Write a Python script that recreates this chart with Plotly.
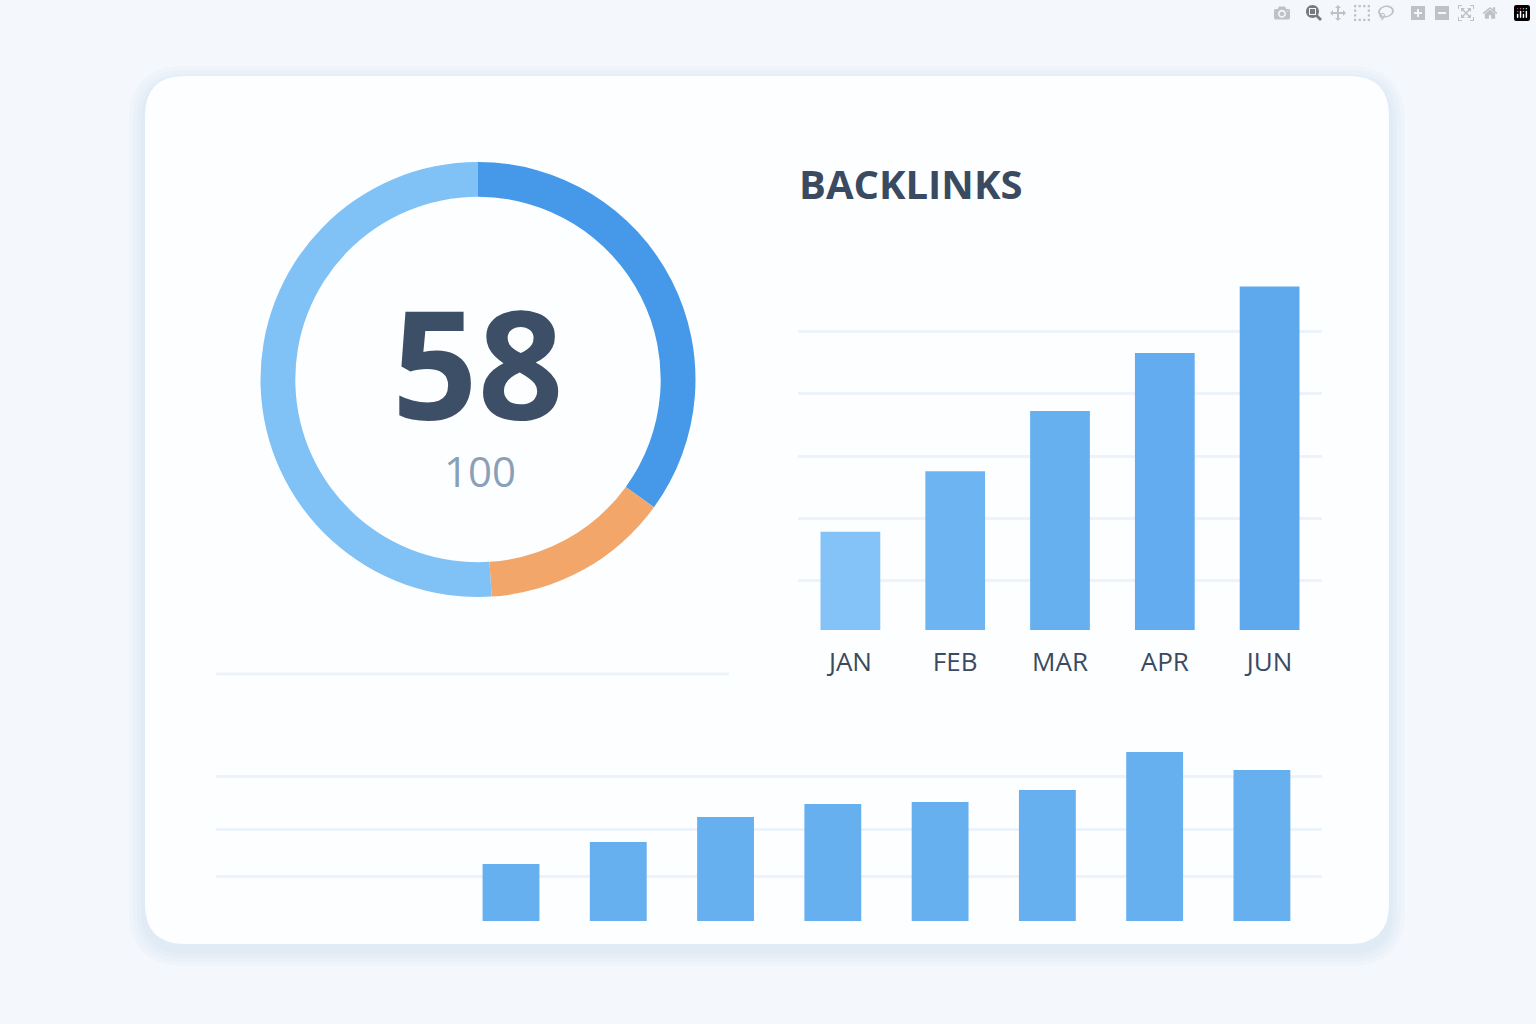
import plotly.graph_objects as go

W, H = 1536, 1024

# data
score = 58
score_max = 100
ring_labels = ["done", "warn", "rest"]
ring_values = [35, 14, 51]
ring_colors = ["#4599e8", "#f2a66a", "#80c1f6"]

months = ["JAN", "FEB", "MAR", "APR", "JUN"]
backlinks = [1.58, 2.55, 3.52, 4.45, 5.52]
month_colors = ["#84c3f7", "#6db5f2", "#66b0f0", "#62acef", "#5ea9ee"]

bottom_x = [1, 2, 3, 4, 5, 6, 7, 8]
bottom_vals = [57, 79, 104, 117, 119, 131, 169, 151]


def px(x):
    return x / W


def py(y):
    return 1 - y / H


def rounded_rect(x0, y0, x1, y1, r):
    # path in paper coords, pixel input
    kx, ky = r / W, r / H
    a, b, c, d = px(x0), py(y1), px(x1), py(y0)
    return (f"M {a+kx},{b} L {c-kx},{b} Q {c},{b} {c},{b+ky} L {c},{d-ky} "
            f"Q {c},{d} {c-kx},{d} L {a+kx},{d} Q {a},{d} {a},{d-ky} "
            f"L {a},{b+ky} Q {a},{b} {a+kx},{b} Z")


fig = go.Figure()

fig.add_trace(go.Pie(
    labels=ring_labels, values=ring_values, hole=0.84, sort=False,
    direction="clockwise", rotation=0, marker=dict(colors=ring_colors),
    textinfo="none", hoverinfo="skip", showlegend=False,
    domain=dict(x=[px(260), px(696)], y=[py(597), py(162)]),
))

fig.add_trace(go.Bar(
    x=months, y=backlinks, marker=dict(color=month_colors, line=dict(width=0)),
    width=0.57, xaxis="x", yaxis="y", showlegend=False,
))

fig.add_trace(go.Bar(
    x=bottom_x, y=bottom_vals, marker=dict(color="#66b0f0", line=dict(width=0)),
    width=0.53, xaxis="x2", yaxis="y2", showlegend=False,
))

# soft shadow made of a few faint layers
shapes = []
for i, alpha in enumerate([0.10, 0.10, 0.12, 0.14]):
    g = 16 - i * 4
    shapes.append(dict(type="path", xref="paper", yref="paper",
                       path=rounded_rect(145 - g, 76 - g + 6, 1389 + g, 944 + g + 6, 40 + g),
                       fillcolor=f"rgba(200,218,240,{alpha})", line=dict(width=0), layer="below"))
shapes += [
    dict(type="path", xref="paper", yref="paper", path=rounded_rect(145, 76, 1389, 944, 40),
         fillcolor="#fdfeff", line=dict(width=0), layer="below"),
    dict(type="line", xref="paper", yref="paper", x0=px(216), x1=px(729), y0=py(674), y1=py(674),
         line=dict(color="#edf3fa", width=3), layer="below"),
]

fig.update_layout(
    width=W, height=H, margin=dict(l=0, r=0, t=0, b=0),
    paper_bgcolor="#f4f8fc", plot_bgcolor="rgba(0,0,0,0)",
    shapes=shapes,
    xaxis=dict(domain=[px(798), px(1322)], showgrid=False, zeroline=False, showline=False,
               ticks="", tickfont=dict(family="Open Sans", size=26, color="#3a4a60"),
               ticklabelstandoff=14, fixedrange=True),
    yaxis=dict(domain=[py(630), py(269)], range=[0, 5.8],
               tickvals=[0, 0.79, 1.79, 2.79, 3.8, 4.8, 5.8], showticklabels=False,
               gridcolor="#edf3fa", gridwidth=3, zeroline=False, fixedrange=True),
    xaxis2=dict(domain=[px(216), px(1322)], range=[-1.75, 8.56], visible=False, anchor="y2"),
    yaxis2=dict(domain=[py(921), py(724)], range=[0, 197], tickvals=[45, 92, 145, 197],
                showticklabels=False, gridcolor="#edf3fa", gridwidth=3, zeroline=False,
                anchor="x2"),
    annotations=[
        dict(text="<b>BACKLINKS</b>", x=px(797), y=py(183), xref="paper", yref="paper",
             xanchor="left", yanchor="middle", showarrow=False,
             font=dict(family="Open Sans", size=40, color="#3a4a60")),
        dict(text=f"<b>{score}</b>", x=px(478), y=py(362), xref="paper", yref="paper",
             xanchor="center", yanchor="middle", showarrow=False,
             font=dict(family="Open Sans", size=150, color="#3d4f66")),
        dict(text=str(score_max), x=px(480), y=py(470), xref="paper", yref="paper",
             xanchor="center", yanchor="middle", showarrow=False,
             font=dict(family="Open Sans", size=42, color="#8aa0b8")),
    ],
)

fig.write_html("out.html", post_script="document.body.style.margin='0';")
